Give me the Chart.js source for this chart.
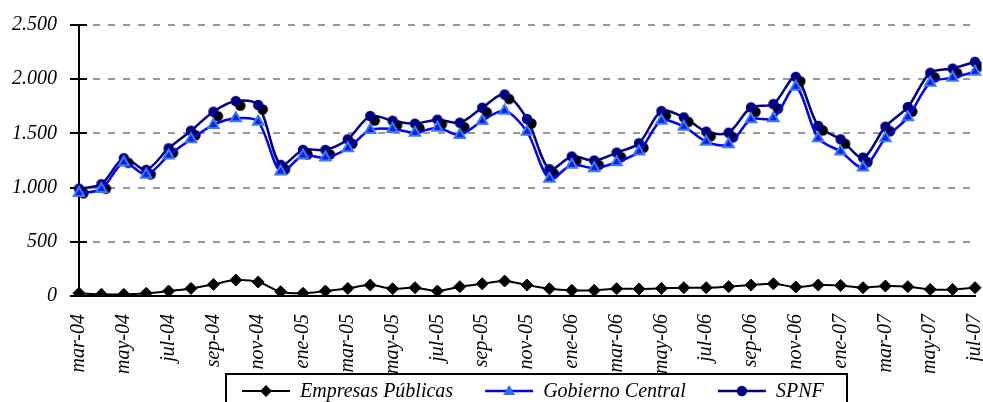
<!DOCTYPE html>
<html>
<head>
<meta charset="utf-8">
<script src="https://cdn.jsdelivr.net/npm/chart.js@4/dist/chart.umd.min.js"></script>
<style>
  html, body { margin: 0; padding: 0; background: #fff; overflow: hidden; }
  #wrap { width: 983px; height: 402px; position: relative; }
</style>
</head>
<body>
<div id="wrap"><canvas id="grafik"></canvas></div>
<script>
// meses: mar-04 .. jul-07
const meses = [
  "mar-04","abr-04","may-04","jun-04","jul-04","ago-04","sep-04","oct-04","nov-04","dic-04",
  "ene-05","feb-05","mar-05","abr-05","may-05","jun-05","jul-05","ago-05","sep-05","oct-05","nov-05","dic-05",
  "ene-06","feb-06","mar-06","abr-06","may-06","jun-06","jul-06","ago-06","sep-06","oct-06","nov-06","dic-06",
  "ene-07","feb-07","mar-07","abr-07","may-07","jun-07","jul-07"
];

const empresasPublicas = [
  25, 15, 15, 25, 46, 70, 107, 147, 129, 40,
  25, 46, 70, 101, 67, 77, 46, 86, 113, 138, 101, 67,
  52, 52, 67, 65, 70, 77, 77, 86, 101, 113, 83, 101,
  98, 77, 92, 86, 61, 61, 77
];

const gobiernoCentral = [
  950, 986, 1231, 1118, 1296, 1446, 1578, 1639, 1608, 1149,
  1296, 1277, 1363, 1532, 1541, 1507, 1553, 1486, 1615, 1709, 1516, 1082,
  1210, 1179, 1234, 1333, 1617, 1562, 1424, 1400, 1630, 1639, 1930, 1455,
  1333, 1185, 1455, 1648, 1967, 2013, 2068
];

const spnf = [
  990, 1032, 1271, 1164, 1363, 1525, 1700, 1798, 1762, 1210,
  1348, 1348, 1446, 1660, 1617, 1590, 1627, 1599, 1737, 1859, 1633, 1170,
  1287, 1250, 1323, 1409, 1706, 1648, 1516, 1507, 1740, 1771, 2022, 1569,
  1446, 1277, 1562, 1743, 2059, 2098, 2160
];

const ticksY = [0, 500, 1000, 1500, 2000, 2500];

const fuente = "'Liberation Serif', 'Times New Roman', serif";

// circulo SPNF con sombra negra desplazada
function puntoSombra() {
  const c = document.createElement("canvas");
  c.width = 24; c.height = 24;
  const g = c.getContext("2d");
  g.fillStyle = "#000";
  g.beginPath(); g.arc(16.5, 16.5, 5.2, 0, Math.PI * 2); g.fill();
  g.fillStyle = "#000080";
  g.beginPath(); g.arc(12, 12, 5.2, 0, Math.PI * 2); g.fill();
  return c;
}

function formatoMiles(v) {
  return String(v).replace(/\B(?=(\d{3})+(?!\d))/g, ".");
}

// marcas del eje Y que cruzan hacia dentro del grafico
const marcasPlugin = {
  id: "marcasInternas",
  beforeDatasetsDraw(chart) {
    const ctx = chart.ctx, y = chart.scales.y, left = chart.chartArea.left;
    ctx.save();
    ctx.strokeStyle = "#000";
    ctx.lineWidth = 2;
    y.ticks.forEach(t => {
      const py = Math.round(y.getPixelForValue(t.value));
      ctx.beginPath(); ctx.moveTo(left, py); ctx.lineTo(left + 8, py); ctx.stroke();
    });
    ctx.restore();
  }
};

// leyenda con marco, dibujada a mano
const leyendaPlugin = {
  id: "leyendaMarco",
  afterDraw(chart) {
    const ctx = chart.ctx;
    const top = 374, left = 226, width = 621, height = 44;
    ctx.save();
    ctx.fillStyle = "#fff";
    ctx.fillRect(left, top, width, height);
    ctx.strokeStyle = "#000";
    ctx.lineWidth = 2;
    ctx.strokeRect(left, top, width, height);
    ctx.font = "italic 20px " + fuente;
    ctx.textBaseline = "middle";
    const cy = 391;
    let x = 242;
    chart.data.datasets.forEach(ds => {
      ctx.strokeStyle = ds.borderColor;
      ctx.lineWidth = ds.borderWidth;
      ctx.beginPath(); ctx.moveTo(x, cy); ctx.lineTo(x + 48, cy); ctx.stroke();
      const mx = x + 24;
      ctx.fillStyle = ds.legendFill;
      ctx.beginPath();
      if (ds.legendMark === "diamond") {
        ctx.moveTo(mx, cy - 6); ctx.lineTo(mx + 6, cy); ctx.lineTo(mx, cy + 6); ctx.lineTo(mx - 6, cy);
        ctx.closePath(); ctx.fill();
      } else if (ds.legendMark === "triangle") {
        ctx.moveTo(mx, cy - 6); ctx.lineTo(mx + 6, cy + 4); ctx.lineTo(mx - 6, cy + 4);
        ctx.closePath(); ctx.fill();
      } else {
        ctx.arc(mx, cy, 5.2, 0, Math.PI * 2); ctx.fill();
      }
      ctx.fillStyle = "#000";
      ctx.fillText(ds.label, x + 58, cy + 1);
      x += 58 + ctx.measureText(ds.label).width + 32;
    });
    ctx.restore();
  }
};

new Chart(document.getElementById("grafik"), {
  type: "line",
  data: {
    labels: meses,
    datasets: [
      {
        label: "Empresas Públicas",
        data: empresasPublicas,
        borderColor: "#000",
        borderWidth: 2,
        pointStyle: "rectRot",
        pointRadius: 6,
        pointBackgroundColor: "#000",
        pointBorderColor: "#000",
        pointBorderWidth: 1,
        tension: 0.3,
        legendMark: "diamond",
        legendFill: "#000"
      },
      {
        label: "Gobierno Central",
        data: gobiernoCentral,
        borderColor: "#0000ff",
        borderWidth: 2.5,
        pointStyle: "triangle",
        pointRadius: 6,
        pointBackgroundColor: "#0a1fd8",
        pointBorderColor: "#3b78ff",
        pointBorderWidth: 2,
        tension: 0.3,
        legendMark: "triangle",
        legendFill: "#2f6bff"
      },
      {
        label: "SPNF",
        data: spnf,
        borderColor: "#000080",
        borderWidth: 2.5,
        pointStyle: puntoSombra(),
        tension: 0.3,
        legendMark: "circle",
        legendFill: "#000080"
      }
    ]
  },
  options: {
    responsive: true,
    maintainAspectRatio: false,
    animation: false,
    events: [],
    layout: { padding: { top: 23, right: 2, left: 0, bottom: 0 } },
    plugins: { legend: { display: false }, tooltip: { enabled: false } },
    scales: {
      x: {
        offset: false,
        grid: { display: false, drawTicks: false },
        border: { display: true, color: "#000", width: 2 },
        ticks: {
          autoSkip: false,
          maxRotation: 90,
          minRotation: 90,
          padding: 18,
          color: "#000",
          font: { family: fuente, size: 20, style: "italic" },
          callback: function (v, i) { return i % 2 === 0 ? meses[i] : ""; }
        },
        afterFit(scale) { scale.height = 106; scale.paddingLeft = 0; scale.paddingRight = 0; }
      },
      y: {
        min: 0,
        max: 2500,
        afterBuildTicks(scale) { scale.ticks = ticksY.map(v => ({ value: v })); },
        grid: {
          color: "#999",
          lineWidth: 2,
          tickLength: 9,
          tickColor: "#000",
          tickWidth: 2
        },
        border: { display: true, color: "#000", width: 2, dash: [7, 8], dashOffset: -13 },
        ticks: {
          padding: 13,
          color: "#000",
          font: { family: fuente, size: 20, style: "italic" },
          callback: v => formatoMiles(v)
        },
        afterFit(scale) { scale.width = 79; }
      }
    }
  },
  plugins: [marcasPlugin, leyendaPlugin]
});
</script>
</body>
</html>
